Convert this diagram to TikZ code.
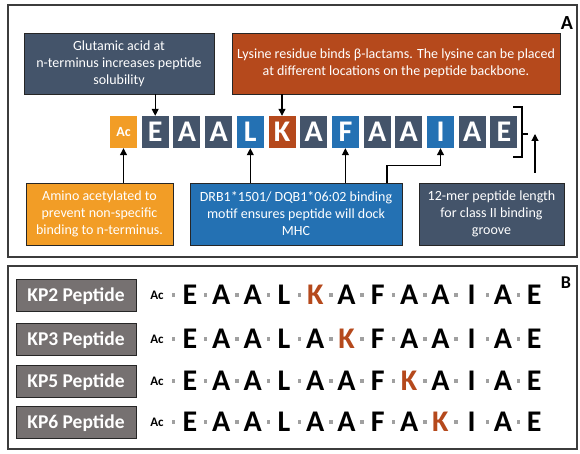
\documentclass[tikz,border=0pt]{standalone}
\usepackage{fontspec}
\setmainfont{Carlito}
\usetikzlibrary{arrows.meta,calc}
\definecolor{slate}{HTML}{44546A}
\definecolor{rust}{HTML}{B5491C}
\definecolor{gold}{HTML}{F29D26}
\definecolor{blu}{HTML}{2471B3}
\definecolor{lgray}{HTML}{767171}
\definecolor{sepc}{HTML}{A0A0A0}
\definecolor{framec}{HTML}{3C3C3C}
\begin{document}
\begin{tikzpicture}[x=1pt,y=-1pt,
 note/.style={draw=black!85, line width=0.9pt, text=white, align=center, inner sep=0pt, font=\fontsize{14}{17}\selectfont},
 res/.style={minimum width=27pt, minimum height=32pt, inner sep=0pt, text=white, font=\fontsize{30}{30}\selectfont\bfseries},
 arr/.style={-{Triangle[width=7pt,length=7pt]}, line width=1.1pt},
 kplabel/.style={draw=black!85, line width=0.9pt, fill=lgray, text=white, minimum width=120pt, minimum height=32pt, inner sep=0pt, text depth=0pt, font=\fontsize{19.5}{20}\selectfont\bfseries},
 aa/.style={inner sep=0pt, font=\fontsize{30}{30}\selectfont\bfseries},
 sq/.style={fill=sepc, minimum size=3.5pt, inner sep=0pt},
 panel/.style={draw=framec, line width=1.2pt}]
\useasboundingbox (0,0) rectangle (580,454);
\fill[white] (0,0) rectangle (580,454);
\draw[panel] (8,5) rectangle (577,257);
\draw[panel] (8,266) rectangle (577,449);
\node[font=\fontsize{20}{20}\selectfont\bfseries] (labA) at (567,23) {A};
\node[font=\fontsize{18}{18}\selectfont\bfseries] (labB) at (566,283) {B};

% panel A peptide
\node[res, fill=gold, font=\fontsize{14}{14}\selectfont\bfseries] (p0) at (123.5,132) {Ac};
\foreach \i/\lt/\c in {1/E/slate,2/A/slate,3/A/slate,4/L/blu,5/K/rust,6/A/slate,7/F/blu,8/A/slate,9/A/slate,10/I/blu,11/A/slate,12/E/slate}
  \node[res, fill=\c] (p\i) at (123.5+31.7*\i,132) {\lt};

% notes
\node[note, fill=slate, minimum width=190pt, minimum height=61pt] (glu) at (119,63.5) {Glutamic acid at\\n-terminus increases peptide\\solubility};
\node[note, fill=rust, minimum width=328pt, minimum height=61pt] (lys) at (396,63.5) {Lysine residue binds β-lactams. The lysine can be placed\\at different locations on the peptide backbone.};
\node[note, fill=gold, minimum width=147pt, minimum height=62pt] (ami) at (99.5,214) {Amino acetylated to\\prevent non-specific\\binding to n-terminus.};
\node[note, fill=blu, minimum width=212pt, minimum height=62pt] (drb) at (296,214) {DRB1*1501/ DQB1*06:02 binding\\motif ensures peptide will dock\\MHC};
\node[note, fill=slate, minimum width=145pt, minimum height=62pt] (mer) at (491.5,214) {12-mer peptide length\\for class II binding\\groove};

% arrows
\draw[arr] (glu.south -| p1) -- (p1.north);
\draw[arr] (lys.south -| p5) -- (p5.north);
\draw[arr] (ami.north -| p0) -- (p0.south);
\draw[arr] (drb.north -| p4) -- (p4.south);
\draw[arr] (drb.north -| p7) -- (p7.south);
\draw[arr] ([xshift=91pt]drb.north) -- ++(0,-17) -| (p10.south);

% bracket
\coordinate (bra1) at (513,107);
\coordinate (bra2) at (522,107);
\coordinate (bra3) at (522,157);
\coordinate (bra4) at (513,157);
\coordinate (bram) at (522,134);
\coordinate (brat) at (528,134);
\draw[line width=1.1pt] (bra1) -- (bra2) -- (bra3) -- (bra4);
\draw[line width=1.1pt] (bram) -- (brat);
\coordinate (mbase) at (535,173);
\coordinate (mtip) at (535,134);
\draw[arr] (mbase) -- (mtip);

% panel B
\foreach \rn/\y/\k in {2/295/5,3/339/6,5/381/8,6/422/9}{
  \node[kplabel] (kp\rn) at (76,\y) {KP\rn\ Peptide};
  \node[inner sep=0pt, font=\fontsize{13}{13}\selectfont\bfseries] (b\rn-0) at (157,\y) {Ac};
  \foreach \lt [count=\i] in {E,A,A,L,A,A,F,A,A,I,A,E}{
    \ifnum\i=\k
      \node[aa, text=rust] (b\rn-\i) at (190+31.3*\i-31.3,\y) {K};
    \else
      \node[aa] (b\rn-\i) at (190+31.3*\i-31.3,\y) {\lt};
    \fi
  }
  \foreach \i [evaluate=\i as \j using int(\i-1)] in {1,...,12}
    \node[sq] (s\rn-\i) at ($(b\rn-\j)!0.5!(b\rn-\i)$) {};
}
\end{tikzpicture}
\end{document}
